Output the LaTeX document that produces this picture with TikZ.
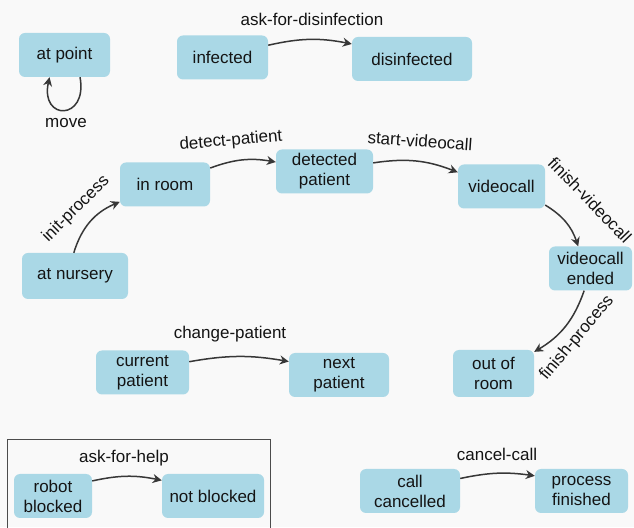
\documentclass[tikz,border=0pt]{standalone}
\usepackage{fontspec}
\setmainfont{Liberation Sans}
\usetikzlibrary{arrows.meta}
\definecolor{statefill}{RGB}{170,216,230}
\definecolor{bg}{RGB}{249,249,249}
\definecolor{ink}{RGB}{20,20,20}
\definecolor{edgecol}{RGB}{55,55,55}
\begin{document}
\begin{tikzpicture}[x=1pt,y=1pt,
  every node/.style={font=\fontsize{17}{20}\selectfont, text=ink},
  state/.style={fill=statefill, rounded corners=6pt, align=center,
                inner sep=0pt, minimum height=44pt},
  trans/.style={draw=edgecol, line width=1.5pt,
                -{Stealth[length=9pt,width=9pt]}},
  lbl/.style={inner sep=0pt}]
  % canvas
  \fill[bg] (0,0) rectangle (634,527);
  \useasboundingbox (0,0) rectangle (634,527);

  % frame around the blocked/unblocked pair
  \draw[draw=black!70, line width=1pt] (7,-5) rectangle (270,87);

  % states
  \node[state, minimum width=91pt]  (atpoint)    at (64.5,472)  {at point};
  \node[state, minimum width=91pt]  (infected)   at (222.5,469.5) {infected};
  \node[state, minimum width=120pt] (disinf)     at (412,468)   {disinfected};
  \node[state, minimum width=90pt]  (inroom)     at (165,342.5) {in room};
  \node[state, minimum width=97pt]  (detected)   at (324.5,355.5) {detected\\patient};
  \node[state, minimum width=87pt]  (videocall)  at (501.5,340.5) {videocall};
  \node[state, minimum width=83pt]  (ended)      at (590.5,258.5) {videocall\\ended};
  \node[state, minimum width=81pt, minimum height=47pt] (outroom) at (493.5,153.5) {out of\\room};
  \node[state, minimum width=106pt, minimum height=46pt] (nursery) at (75,251) {at nursery};
  \node[state, minimum width=93pt]  (current)    at (142.5,154.5) {current\\patient};
  \node[state, minimum width=100pt] (next)       at (339,152)   {next\\patient};
  \node[state, minimum width=78pt]  (robot)      at (53,31)     {robot\\blocked};
  \node[state, minimum width=102pt] (notblocked) at (213,31)    {not blocked};
  \node[state, minimum width=100pt] (cancelled)  at (410,36)    {call\\cancelled};
  \node[state, minimum width=93pt]  (finished)   at (581.5,36)  {process\\finished};

  % transitions
  \draw[trans] (infected.15) to[bend left=12] (disinf.166);
  \draw[trans] (atpoint.-55) .. controls (88,406) and (40,406) .. (atpoint.-124);
  \draw[trans] (nursery.93) to[bend left=25] (inroom.201);
  \draw[trans] (inroom.20) to[bend left=15] (detected.169);
  \draw[trans] (detected.10) to[bend left=15] (videocall.162);
  \draw[trans] (videocall.-23) to[bend left=20] (ended.119);
  \draw[trans] (ended.254) to[bend left=20] (outroom.28);
  \draw[trans] (current.13) to[bend left=10] (next.165);
  \draw[trans] (robot.21) to[bend left=12] (notblocked.163);
  \draw[trans] (cancelled.14) to[bend left=10] (finished.162);

  % transition labels
  \node[lbl] (l1) at (312,508) {ask-for-disinfection};
  \node[lbl] (l2) at (66,404) {move};
  \node[lbl, rotate=45] (l3) at (76,318) {init-process};
  \node[lbl, rotate=5] (l4) at (231,386) {detect-patient};
  \node[lbl, rotate=-4] (l5) at (420,386) {start-videocall};
  \node[lbl, rotate=-46] (l6) at (590,327) {finish-videocall};
  \node[lbl, rotate=50] (l7) at (577,189) {finish-process};
  \node[lbl] (l8) at (230,193) {change-patient};
  \node[lbl] (l9) at (124,69) {ask-for-help};
  \node[lbl] (l10) at (497,73) {cancel-call};
\end{tikzpicture}
\end{document}
